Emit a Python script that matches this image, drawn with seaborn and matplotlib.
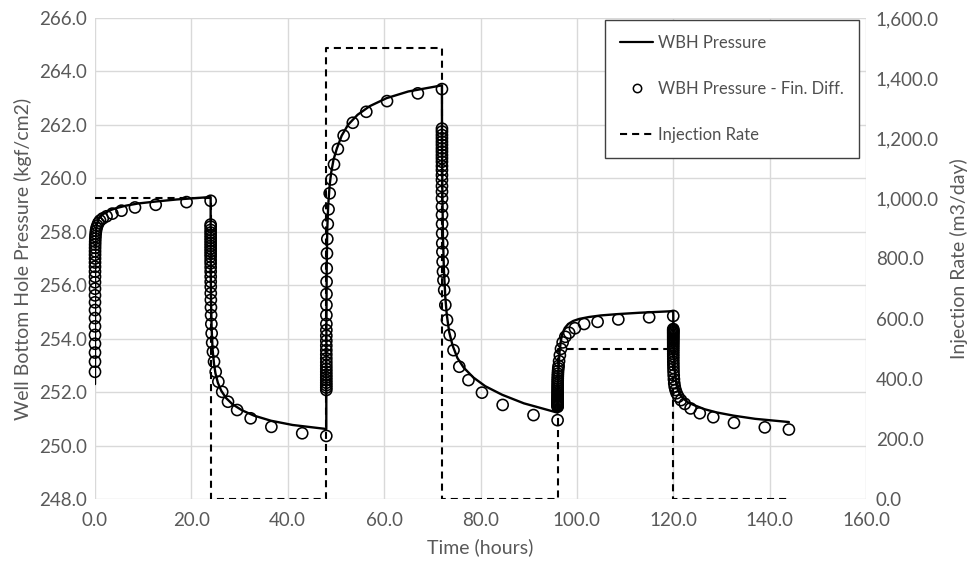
import matplotlib
matplotlib.use("Agg")
import matplotlib.pyplot as plt
from matplotlib.lines import Line2D
from matplotlib.ticker import FuncFormatter, MultipleLocator
import numpy as np
import pandas as pd
import seaborn as sns

# ---------------------------------------------------------------------------
# Injection schedule (step function, m3/day)
RATE_TIME = [0, 24, 24, 48, 48, 72, 72, 96, 96, 120, 120, 144]
RATE = [1000, 1000, 0, 0, 1500, 1500, 0, 0, 500, 500, 0, 0]

# Start of each injection / fall-off period (hours)
PERIOD_START = [0.0, 24.0, 48.0, 72.0, 96.0, 120.0]

# Analytic solution: elapsed time within each period (hours) and pressure (kgf/cm2)
DT_LINE = [0.0, 0.002, 0.02, 0.08, 0.2, 0.4, 0.7, 1.0, 1.5, 2.2, 3.2, 4.5,
           6.5, 9.0, 12.5, 17.0, 24.0]
P_LINE_1 = [252.30, 254.50, 256.60, 257.60, 258.05, 258.30, 258.45, 258.55,
            258.64, 258.72, 258.81, 258.89, 258.98, 259.06, 259.13, 259.21, 259.30]
P_LINE_2 = [259.30, 257.90, 256.60, 255.40, 254.40, 253.60, 253.05, 252.70,
            252.35, 252.05, 251.78, 251.55, 251.32, 251.12, 250.93, 250.77, 250.62]
P_LINE_3 = [250.62, 252.20, 254.30, 256.60, 258.10, 259.00, 259.75, 260.20,
            260.70, 261.12, 261.60, 262.00, 262.38, 262.70, 263.00, 263.25, 263.48]
P_LINE_4 = [263.48, 262.50, 261.30, 259.60, 257.90, 256.60, 255.55, 254.90,
            254.25, 253.75, 253.28, 252.92, 252.55, 252.22, 251.90, 251.58, 251.23]
P_LINE_5 = [251.23, 251.30, 251.60, 252.20, 252.90, 253.50, 253.95, 254.20,
            254.40, 254.55, 254.66, 254.74, 254.81, 254.87, 254.92, 254.97, 255.03]
P_LINE_6 = [255.03, 254.90, 254.50, 253.90, 253.20, 252.60, 252.25, 252.05,
            251.88, 251.74, 251.60, 251.50, 251.36, 251.24, 251.12, 251.00, 250.88]

# Finite-difference solution: time steps within each period (hours) and pressure
DT_FD = [8e-6, 1.2e-5, 1.8e-5, 2.7e-5, 4.1e-5, 6.2e-5, 9.3e-5, 1.4e-4, 2.1e-4,
         3.1e-4, 4.7e-4, 7.0e-4, 1.1e-3, 1.6e-3, 2.4e-3, 3.6e-3, 5.4e-3, 8.1e-3,
         0.012, 0.018, 0.027, 0.041, 0.061, 0.092, 0.14, 0.21, 0.31, 0.47,
         0.7, 1.05, 1.6, 2.4, 3.6, 5.5, 8.3, 12.6, 19.0, 24.0]
P_FD_1 = [252.76, 253.14, 253.48, 253.81, 254.14, 254.46, 254.77, 255.07, 255.36,
          255.62, 255.87, 256.11, 256.32, 256.51, 256.69, 256.85, 257.00, 257.14,
          257.27, 257.40, 257.52, 257.63, 257.74, 257.84, 257.94, 258.04, 258.14,
          258.23, 258.33, 258.42, 258.50, 258.58, 258.68, 258.79, 258.91, 259.01,
          259.11, 259.16]
P_FD_2 = [258.27, 258.19, 258.07, 257.97, 257.87, 257.77, 257.67, 257.57, 257.47,
          257.37, 257.27, 257.17, 257.07, 256.94, 256.82, 256.67, 256.51, 256.32,
          256.13, 255.94, 255.70, 255.45, 255.17, 254.88, 254.55, 254.20, 253.85,
          253.51, 253.14, 252.76, 252.39, 252.01, 251.64, 251.33, 251.02, 250.70,
          250.46, 250.36]
P_FD_3 = [252.08, 252.17, 252.26, 252.35, 252.45, 252.55, 252.65, 252.76, 252.87,
          252.99, 253.12, 253.26, 253.41, 253.57, 253.74, 253.92, 254.11, 254.32,
          254.55, 254.88, 255.26, 255.67, 256.13, 256.63, 257.19, 257.73, 258.29,
          258.84, 259.44, 259.96, 260.52, 261.10, 261.60, 262.08, 262.49, 262.89,
          263.18, 263.34]
P_FD_4 = [261.86, 261.75, 261.62, 261.50, 261.37, 261.25, 261.12, 261.00, 260.87,
          260.75, 260.62, 260.46, 260.31, 260.12, 259.94, 259.71, 259.50, 259.25,
          258.94, 258.63, 258.29, 257.94, 257.57, 257.25, 256.88, 256.51, 256.19,
          255.82, 255.26, 254.70, 254.14, 253.57, 252.95, 252.45, 251.98, 251.52,
          251.14, 250.95]
P_FD_5 = [251.45, 251.48, 251.51, 251.54, 251.57, 251.61, 251.65, 251.69, 251.73,
          251.78, 251.83, 251.88, 251.94, 252.00, 252.06, 252.13, 252.20, 252.27,
          252.35, 252.43, 252.51, 252.60, 252.69, 252.79, 252.89, 252.98, 253.16,
          253.38, 253.62, 253.86, 254.07, 254.22, 254.39, 254.55, 254.63, 254.72,
          254.80, 254.85]
P_FD_6 = [254.36, 254.32, 254.28, 254.24, 254.20, 254.15, 254.10, 254.05, 254.00,
          253.94, 253.88, 253.82, 253.75, 253.68, 253.60, 253.52, 253.43, 253.34,
          253.24, 253.13, 253.02, 252.90, 252.77, 252.63, 252.48, 252.33, 252.20,
          252.08, 251.96, 251.83, 251.70, 251.56, 251.39, 251.21, 251.06, 250.85,
          250.68, 250.60]

X_TICKS = [0, 20, 40, 60, 80, 100, 120, 140, 160]

# ---------------------------------------------------------------------------
p_line = [P_LINE_1, P_LINE_2, P_LINE_3, P_LINE_4, P_LINE_5, P_LINE_6]
p_fd = [P_FD_1, P_FD_2, P_FD_3, P_FD_4, P_FD_5, P_FD_6]

line_df = pd.DataFrame({
    "time": np.concatenate([t0 + np.array(DT_LINE) for t0 in PERIOD_START]),
    "pressure": np.concatenate(p_line),
})
fd_df = pd.DataFrame({
    "time": np.concatenate([t0 + np.array(DT_FD) for t0 in PERIOD_START]),
    "pressure": np.concatenate(p_fd),
})
rate_df = pd.DataFrame({"time": RATE_TIME, "rate": RATE})

sns.set_theme(style="white")
plt.rcParams["font.family"] = ["Lato", "DejaVu Sans"]
TEXT = "#595959"
GRID = "#d9d9d9"

fig = plt.figure(figsize=(9.68, 5.62), dpi=100)
ax = fig.add_axes([95 / 968, 1 - 499 / 562, (866 - 95) / 968, (499 - 18) / 562])
ax2 = ax.twinx()

sns.lineplot(data=line_df, x="time", y="pressure", estimator=None, sort=False,
             color="black", linewidth=1.7, ax=ax, zorder=3)
sns.scatterplot(data=fd_df, x="time", y="pressure", s=64, marker="o",
                facecolor="none", edgecolor="black", linewidth=1.15, ax=ax,
                zorder=4, clip_on=False)
sns.lineplot(data=rate_df, x="time", y="rate", estimator=None, sort=False,
             color="black", linewidth=1.5, linestyle=(0, (3.4, 2.4)), ax=ax2)

ax.set_xlim(0, 160)
ax.set_ylim(248, 266)
ax2.set_ylim(0, 1600)
ax.set_xticks(X_TICKS)
ax.yaxis.set_major_locator(MultipleLocator(2))
ax2.yaxis.set_major_locator(MultipleLocator(200))
ax.xaxis.set_major_formatter(FuncFormatter(lambda v, _: f"{v:.1f}"))
ax.yaxis.set_major_formatter(FuncFormatter(lambda v, _: f"{v:.1f}"))
ax2.yaxis.set_major_formatter(FuncFormatter(lambda v, _: f"{v:,.1f}"))

ax.grid(True, color=GRID, linewidth=1.0)
ax.set_axisbelow(True)
for a in (ax, ax2):
    for s in a.spines.values():
        s.set_visible(False)
ax.tick_params(axis="x", length=0, pad=9, labelsize=13.5, labelcolor=TEXT)
ax.tick_params(axis="y", length=0, pad=6, labelsize=13.5, labelcolor=TEXT)
ax2.tick_params(axis="y", length=0, pad=7, labelsize=13.5, labelcolor=TEXT)

ax.set_xlabel("Time (hours)", fontsize=14, color=TEXT, labelpad=7)
ax.set_ylabel("Well Bottom Hole Pressure (kgf/cm2)", fontsize=14, color=TEXT, labelpad=5)
ax2.set_ylabel("Injection Rate (m3/day)", fontsize=14, color=TEXT, labelpad=8)

handles = [
    Line2D([], [], color="black", linewidth=1.6),
    Line2D([], [], color="black", marker="o", linestyle="none",
           markerfacecolor="none", markeredgewidth=1.1, markersize=6),
    Line2D([], [], color="black", linewidth=1.5, linestyle=(0, (3.4, 2.4))),
]
labels = ["WBH Pressure", "WBH Pressure - Fin. Diff.", "Injection Rate"]
leg = ax2.legend(handles, labels, loc="upper right",
                 bbox_to_anchor=(859 / 968, 1 - 20 / 562),
                 bbox_transform=fig.transFigure, borderaxespad=0,
                 fontsize=12, labelcolor="#505050", frameon=True, fancybox=False,
                 edgecolor="#404040", framealpha=1, labelspacing=1.8,
                 handlelength=2.0, handletextpad=0.3, borderpad=0.9)
leg.get_frame().set_linewidth(1.0)

fig.savefig("out.png", dpi=100)
